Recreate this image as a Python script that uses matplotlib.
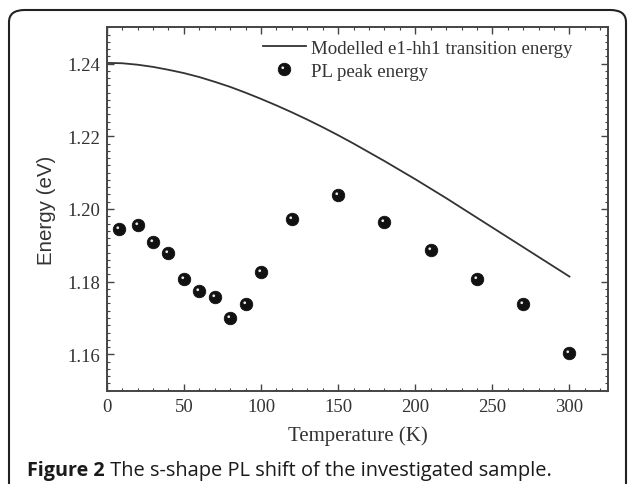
import numpy as np
import matplotlib
matplotlib.use("Agg")
import matplotlib.pyplot as plt
from matplotlib.patches import FancyBboxPatch
from matplotlib.path import Path
from matplotlib.ticker import MultipleLocator

# Courbe modelisee (tous les 10 K)
t_model = [0, 10, 20, 30, 40, 50, 60, 70, 80, 90, 100, 110, 120, 130, 140, 150,
           160, 170, 180, 190, 200, 210, 220, 230, 240, 250, 260, 270, 280, 290, 300]
e_model = [1.2402, 1.2401, 1.2397, 1.2391, 1.2383, 1.2374, 1.2363, 1.2350, 1.2336,
           1.2320, 1.2303, 1.2285, 1.2266, 1.2246, 1.2225, 1.2203, 1.2180, 1.2156,
           1.2132, 1.2107, 1.2082, 1.2056, 1.2030, 1.2003, 1.1976, 1.1949, 1.1922,
           1.1895, 1.1868, 1.1841, 1.1814]

# Pics de PL mesures
t_pl = [8, 20, 30, 40, 50, 60, 70, 80, 90, 100, 120, 150, 180, 210, 240, 270, 300]
e_pl = [1.1946, 1.1957, 1.1909, 1.1879, 1.1808, 1.1775, 1.1757, 1.1701, 1.1739,
        1.1827, 1.1973, 1.2039, 1.1963, 1.1886, 1.1808, 1.1739, 1.1604]

serif = "Liberation Serif"

fig = plt.figure(figsize=(6.29, 4.85), dpi=100)
ax = fig.add_axes([0.1697, 0.1924, 0.9667 - 0.1697, 0.9417 - 0.1924])

# cadre arrondi autour de la figure
frame = FancyBboxPatch((9 / 629, -0.05), (626 - 9) / 629, (485 - 11) / 485 + 0.05,
                       boxstyle="round,pad=0,rounding_size=0.025",
                       transform=fig.transFigure, fill=False, ec="#222222", lw=1.5,
                       clip_on=False)
fig.patches.append(frame)

line, = ax.plot(t_model, e_model, color="#333333", lw=1.3,
                label="Modelled e1-hh1 transition energy")

# boule noire + reflet pour l'effet "sphere"
ms = 9
ball, = ax.plot(t_pl, e_pl, ls="none", marker="o", ms=ms, mfc="#111111", mec="#111111", mew=0.6)
c = Path.circle(center=(-0.14, 0.14), radius=0.11)
extent = np.abs(c.vertices).max()
shine, = ax.plot(t_pl, e_pl, ls="none", marker=c, ms=ms * extent / 0.5,
                 mfc="#e8e8e8", mec="none")

ax.set_xlim(0, 325)
ax.set_ylim(1.15, 1.25)
ax.xaxis.set_major_locator(MultipleLocator(50))
ax.xaxis.set_minor_locator(MultipleLocator(10))
ax.yaxis.set_major_locator(MultipleLocator(0.02))
ax.yaxis.set_minor_locator(MultipleLocator(0.002))
ax.yaxis.set_major_formatter(matplotlib.ticker.FormatStrFormatter("%.2f"))
ax.tick_params(which="both", direction="in", top=True, right=True, color="#444444")
ax.tick_params(which="major", length=5, width=1.0, labelsize=13.5, labelcolor="#333333", pad=5)
ax.tick_params(which="minor", length=2.5, width=0.8)
for lab in ax.get_xticklabels() + ax.get_yticklabels():
    lab.set_family(serif)
for s in ax.spines.values():
    s.set_color("#444444")
    s.set_linewidth(1.4)

ax.set_xlabel("Temperature (K)", family=serif, fontsize=15, color="#333333", labelpad=8)
ax.set_ylabel("Energy (eV)", family="Liberation Sans", fontsize=14.8, color="#333333", labelpad=8)

leg = ax.legend([line, (ball, shine)], ["Modelled e1-hh1 transition energy", "PL peak energy"],
                loc="upper right", frameon=False, prop={"family": serif, "size": 13.6},
                handlelength=2.3, handletextpad=0.25, labelspacing=0.32,
                borderaxespad=0.25, bbox_to_anchor=(0.953, 1.0))
for txt in leg.get_texts():
    txt.set_color("#333333")

t1 = fig.text(27 / 629, 1 - 476 / 485, "Figure 2", family="Open Sans", weight="bold",
              fontsize=14.2, color="#1a1a1a", va="baseline")
fig.canvas.draw()
ax.annotate(" The s-shape PL shift of the investigated sample.", xy=(1, 0), xycoords=t1,
            va="bottom", ha="left", family="Open Sans", fontsize=14.4, color="#1a1a1a",
            annotation_clip=False)

fig.savefig("out.png", dpi=100)
